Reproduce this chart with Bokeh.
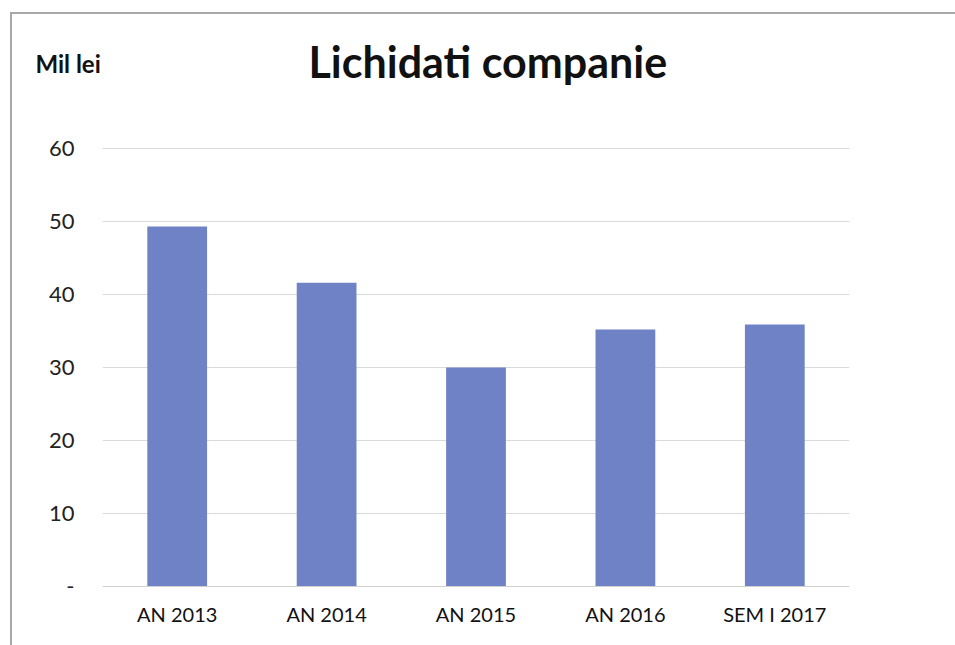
from bokeh.plotting import figure
from bokeh.models import Title, Range1d, FactorRange, InlineStyleSheet
from bokeh.embed import file_html
from bokeh.resources import INLINE

categories = ["AN 2013", "AN 2014", "AN 2015", "AN 2016", "SEM I 2017"]
values = [49.3, 41.6, 30.0, 35.2, 35.9]
y_ticks = [0, 10, 20, 30, 40, 50, 60]

W, H = 955, 645
FRAME_TOP = 100          # frame top (px); gridline 60 sits at 148 px
GRID_TOP_PX = 148
BOTTOM_PX = 586
y_end = 60 + (GRID_TOP_PX - FRAME_TOP) * 60.0 / (BOTTOM_PX - GRID_TOP_PX)

frame_css = InlineStyleSheet(css="""
:host::before {
  content: ""; position: absolute; left: 10px; top: 12px; width: 945px; height: 2px;
  background: #a8a8a8; pointer-events: none; z-index: 10;
}
:host::after {
  content: ""; position: absolute; left: 10px; top: 12px; width: 2px; height: 633px;
  background: #a8a8a8; pointer-events: none; z-index: 10;
}
""")
p = figure(width=W, height=H, x_range=FactorRange(*categories), y_range=Range1d(0, y_end),
           output_backend="svg", toolbar_location=None, title=None,
           min_border_left=102, min_border_right=106, min_border_top=FRAME_TOP,
           min_border_bottom=H - BOTTOM_PX, stylesheets=[frame_css])

p.vbar(x=categories, top=values, width=0.4, color="#6e82c5", line_color=None)

p.outline_line_color = None
p.background_fill_color = "white"
p.border_fill_color = "white"

p.xgrid.grid_line_color = None
p.ygrid.grid_line_color = "#dadada"
p.ygrid.ticker = y_ticks
p.yaxis.ticker = y_ticks
p.yaxis.major_label_overrides = {0: "-"}
p.yaxis.axis_line_color = None
p.yaxis.major_tick_line_color = None
p.yaxis.minor_tick_line_color = None
p.yaxis.major_label_standoff = 22
p.yaxis.major_label_text_font = "Lato"
p.yaxis.major_label_text_font_size = "22px"
p.yaxis.major_label_text_color = "#222222"

p.xaxis.axis_line_color = "#d0d0d0"
p.xaxis.major_tick_line_color = None
p.xaxis.major_label_standoff = 9
p.xaxis.major_label_text_font = "Lato"
p.xaxis.major_label_text_font_size = "20px"
p.xaxis.major_label_text_color = "#111111"

unit = Title(text="Mil lei", align="left", offset=-67, standoff=46,
             text_font="Lato", text_font_style="bold", text_font_size="24px",
             text_color="#111111")
p.add_layout(unit, "above")

main = Title(text="Lichidati companie", align="left", offset=206, standoff=-126,
             text_font="Lato", text_font_style="bold", text_font_size="43px",
             text_color="#111111")
p.add_layout(main, "above")

open("out.html", "w").write(file_html(p, INLINE))
